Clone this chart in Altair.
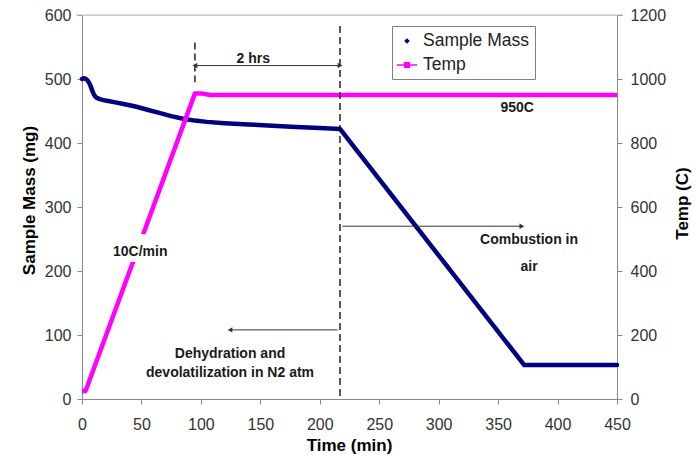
import altair as alt
import pandas as pd

# ---- data ----
mass_time = [0, 1, 2, 3, 4, 5, 6, 7, 8, 9, 10, 11, 12, 13, 15, 18, 22, 28, 35, 45, 55, 65, 75, 85, 95,
             105, 120, 140, 160, 180, 200, 217, 372, 450]
mass_mg = [500, 501, 501, 500.5, 499, 497, 494, 490, 485, 480, 476, 473, 471, 470, 468.5, 467, 465.5,
           463.5, 461, 457, 452, 447, 442, 438, 435, 433, 431, 429, 427, 425, 423.5, 422, 53, 53]

temp_time = [0, 3, 95, 100, 108, 450]
temp_c = [25, 25, 955, 955, 950, 950]

series_names = ["Sample Mass", "Temp"]
series_colors = ["#000080", "#FF00FF"]

vline_time = [95, 217]
vline_top = [557, 583]
vline_bottom = [495, 0]

arrow_y = [521, 108, 270]
arrow_start = [95, 215, 219]
arrow_end = [217, 124.5, 370]

head_left_time = [95, 124.5]
head_left_y = [521, 108]
head_right_time = [217, 370]
head_right_y = [521, 270]

note_text = ["2 hrs", "10C/min", "950C", "Dehydration and", "devolatilization in N2 atm", "Combustion in", "air"]
note_time = [144, 49, 366, 124.5, 124.5, 376, 376]
note_mass = [532, 230, 455, 70, 41, 248, 207]

# white text box behind "10C/min" (time and mass extents)
box_t1 = [20]
box_t2 = [78]
box_m1 = [214]
box_m2 = [258]

mass_ticks = [0, 100, 200, 300, 400, 500, 600]
temp_ticks = [0, 200, 400, 600, 800, 1000, 1200]
time_ticks = [0, 50, 100, 150, 200, 250, 300, 350, 400, 450]

# ---- tables ----
mass_df = pd.DataFrame({"t": mass_time, "v": mass_mg})
temp_df = pd.DataFrame({"t": temp_time, "v": temp_c})
vline_df = pd.DataFrame({"t": vline_time, "y1": vline_top, "y2": vline_bottom})
arrow_df = pd.DataFrame({"y": arrow_y, "x1": arrow_start, "x2": arrow_end})
hl_df = pd.DataFrame({"t": head_left_time, "y": head_left_y})
hr_df = pd.DataFrame({"t": head_right_time, "y": head_right_y})
note_df = pd.DataFrame({"txt": note_text, "t": note_time, "y": note_mass})
box_df = pd.DataFrame({"t1": box_t1, "t2": box_t2, "m1": box_m1, "m2": box_m2})
legend_df = pd.DataFrame({"series": series_names})

FONT = "Liberation Sans"
xscale = alt.Scale(domain=[0, 450], nice=False, zero=False)
mscale = alt.Scale(domain=[0, 600], nice=False, zero=False)
tscale = alt.Scale(domain=[0, 1200], nice=False, zero=False)

x_axis = alt.Axis(values=time_ticks, title="Time (min)", grid=False, labelFont=FONT, labelFontSize=16,
                  labelColor="#333333", tickSize=5, tickColor="#888888", domainColor="#888888",
                  labelPadding=12, labelFlush=False, titleFont=FONT, titleFontSize=17,
                  titleFontWeight="bold", titleColor="#000000", titleX=267, titleY=51,
                  titleBaseline="alphabetic")

mass_axis = alt.Axis(orient="left", values=mass_ticks, title="Sample Mass (mg)", grid=False,
                     labelFont=FONT, labelFontSize=16, labelColor="#333333", tickSize=5,
                     tickColor="#888888", domainColor="#888888", labelPadding=6, labelFlush=False,
                     titleFont=FONT, titleFontSize=17, titleFontWeight="bold", titleColor="#000000",
                     titleX=-53, titleY=185, titleBaseline="middle")

temp_axis = alt.Axis(orient="right", values=temp_ticks, format="d", title="Temp (C)", grid=False,
                     labelFont=FONT, labelFontSize=16, labelColor="#333333", tickSize=5,
                     tickColor="#888888", domainColor="#888888", labelPadding=8, labelFlush=False,
                     titleFont=FONT, titleFontSize=17, titleFontWeight="bold", titleColor="#000000",
                     titleX=65, titleY=188, titleAngle=270, titleBaseline="middle")

X = alt.X("t:Q", scale=xscale, axis=x_axis)

top_line = alt.Chart(legend_df).mark_rule(color="#bbbbbb", strokeWidth=1.2).encode(
    x=alt.value(-6), x2=alt.value(541), y=alt.value(0)
).transform_filter("datum.series == 'Temp'")

mass_line = alt.Chart(mass_df).mark_line(color=series_colors[0], strokeWidth=4.5,
                                         strokeJoin="round", strokeCap="round").encode(
    x=X,
    y=alt.Y("v:Q", scale=mscale, axis=mass_axis),
)

temp_line = alt.Chart(temp_df).mark_line(color=series_colors[1], strokeWidth=4.5,
                                         strokeJoin="round").encode(
    x=X,
    y=alt.Y("v:Q", scale=tscale, axis=temp_axis),
)

text_box = alt.Chart(box_df).mark_rect(color="#ffffff", opacity=1).encode(
    x=alt.X("t1:Q", scale=xscale, axis=x_axis),
    x2="t2:Q",
    y=alt.Y("m1:Q", scale=mscale, axis=None),
    y2="m2:Q",
)

vlines = alt.Chart(vline_df).mark_rule(color="#000000", strokeWidth=1.3, strokeDash=[7, 4]).encode(
    x=X,
    y=alt.Y("y1:Q", scale=mscale, axis=None),
    y2="y2:Q",
)

arrows = alt.Chart(arrow_df).mark_rule(color="#333333", strokeWidth=1).encode(
    x=alt.X("x1:Q", scale=xscale, axis=x_axis),
    x2="x2:Q",
    y=alt.Y("y:Q", scale=mscale, axis=None),
)

heads_left = alt.Chart(hl_df).mark_point(shape="triangle-left", filled=True, size=30,
                                         color="#333333", opacity=1).encode(
    x=X,
    y=alt.Y("y:Q", scale=mscale, axis=None),
)

heads_right = alt.Chart(hr_df).mark_point(shape="triangle-right", filled=True, size=30,
                                          color="#333333", opacity=1).encode(
    x=X,
    y=alt.Y("y:Q", scale=mscale, axis=None),
)

notes = alt.Chart(note_df).mark_text(font=FONT, fontSize=14, fontWeight="bold", color="#1a1a1a",
                                     align="center", baseline="middle").encode(
    x=X,
    y=alt.Y("y:Q", scale=mscale, axis=None),
    text="txt:N",
)

diamond = "M0,-0.28L0.28,0L0,0.28L-0.28,0Z"
line_sq = "M-1,-0.08L1,-0.08L1,0.08L-1,0.08Z M-0.3,-0.3L0.3,-0.3L0.3,0.3L-0.3,0.3Z"

leg = alt.Legend(title=None, orient="none", legendX=310, legendY=11,
                 strokeColor="#808080", fillColor="#ffffff", padding=5,
                 rowPadding=5, symbolSize=400, labelFont=FONT,
                 labelFontSize=17.5, labelColor="#222222", labelOffset=6,
                 symbolStrokeWidth=0)

legend_layer = alt.Chart(legend_df).mark_point(filled=True, opacity=1).encode(
    x=alt.value(0),
    y=alt.value(0),
    color=alt.Color("series:N", scale=alt.Scale(domain=series_names, range=series_colors), legend=leg),
    shape=alt.Shape("series:N", scale=alt.Scale(domain=series_names, range=[diamond, line_sq]), legend=leg),
).transform_filter("false")

chart = alt.layer(
    mass_line, temp_line, text_box, vlines, arrows, heads_left, heads_right, notes, legend_layer, top_line
).resolve_scale(y="independent").properties(
    width=535, height=384,
    autosize=alt.AutoSizeParams(type="none"),
    padding={"left": 82, "top": 15, "right": 79, "bottom": 56},
).configure_view(stroke=None).configure(background="#ffffff")

chart.save("out.html", embed_options={"renderer": "svg", "actions": False})
